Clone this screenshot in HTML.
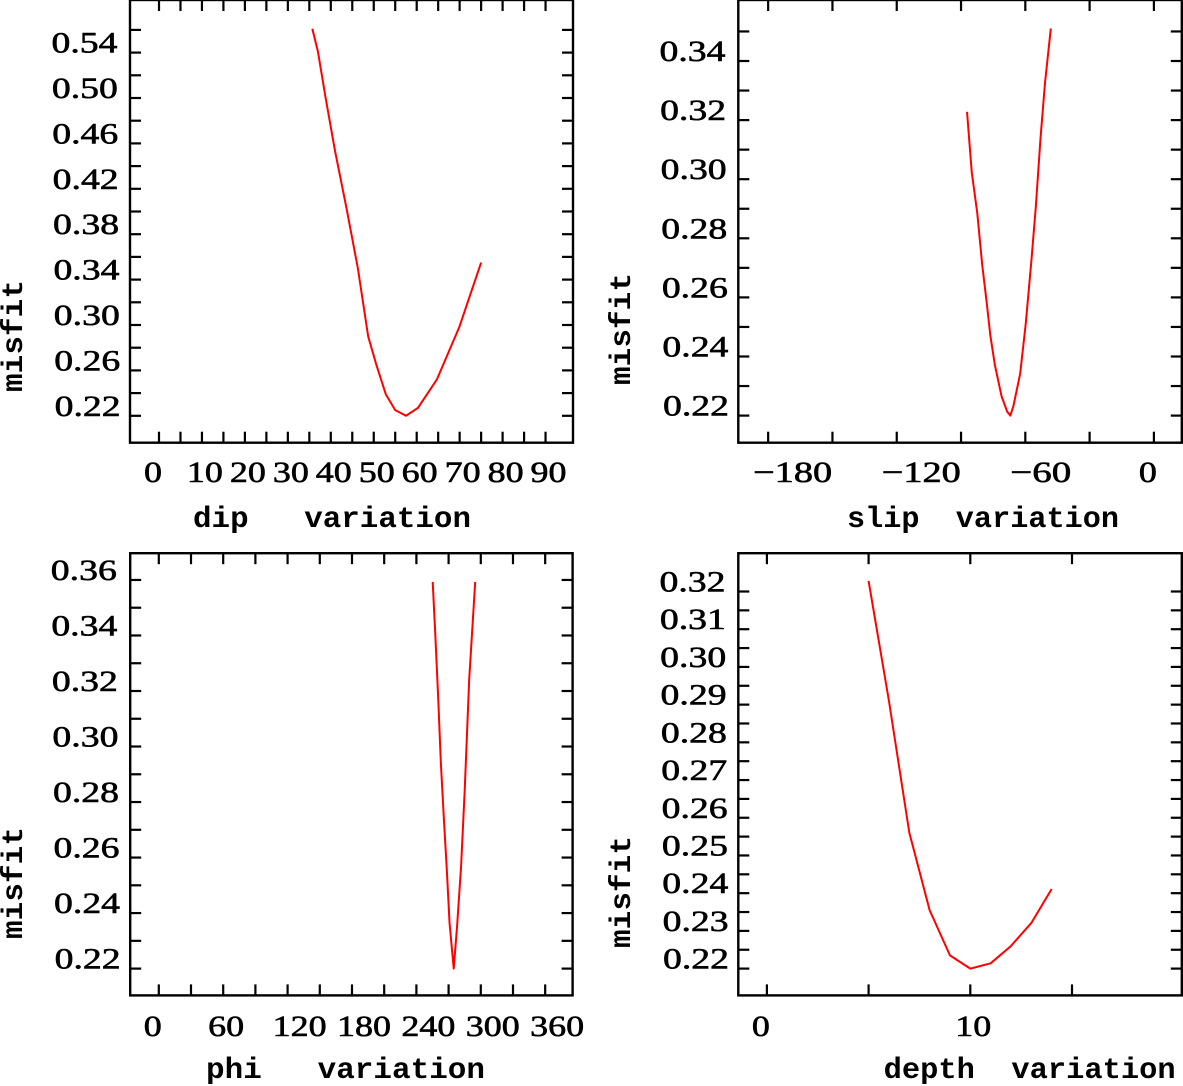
<!DOCTYPE html>
<html><head><meta charset="utf-8"><style>
html,body{margin:0;padding:0;background:#fff;}
svg{display:block;}
.tl{font-family:"Liberation Serif",serif;font-size:30px;fill:#000;stroke:#000;stroke-width:0.6px;}
.tt{font-family:"Liberation Mono",monospace;font-weight:bold;font-size:30px;fill:#000;white-space:pre;}
</style></head><body>
<svg id="chart" width="1183" height="1086" viewBox="0 0 1183 1086" xmlns="http://www.w3.org/2000/svg"></svg>
<script>
// ---- data ----
const dipX = [35.7, 37.0, 38.8, 41.0, 43.6, 46.3, 48.7, 50.6, 52.8, 55.0, 57.5, 60.3, 64.7, 69.9, 75.0];
const dipY = [0.561, 0.541, 0.500, 0.453, 0.404, 0.350, 0.290, 0.265, 0.239, 0.225, 0.220, 0.227, 0.252, 0.298, 0.355];
const slipX = [-87.2, -85.0, -82.4, -80.1, -78.0, -76.3, -74.2, -71.1, -68.5, -67.0, -65.6, -62.4, -59.8, -57.2, -55.1, -52.9, -50.8, -48.1];
const slipY = [0.3228, 0.3024, 0.2884, 0.2709, 0.2581, 0.2470, 0.2371, 0.2266, 0.2214, 0.2200, 0.2231, 0.2342, 0.2511, 0.2721, 0.2907, 0.3140, 0.3327, 0.3510];
const phiX = [255.2, 257.6, 260.4, 262.8, 265.6, 268.4, 270.9, 274.8, 277.9, 281.6, 285.0, 289.2, 294.8];
const phiY = [0.3593, 0.3405, 0.3167, 0.2941, 0.2740, 0.2552, 0.2364, 0.2200, 0.2352, 0.2565, 0.2841, 0.3242, 0.3593];
const depthX = [5, 6, 7, 8, 9, 10, 11, 12, 13, 14];
const depthY = [0.3228, 0.2910, 0.2561, 0.2355, 0.2235, 0.2200, 0.2214, 0.2260, 0.2321, 0.2411];

const dipXTicks = [0,5,10,15,20,25,30,35,40,45,50,55,60,65,70,75,80,85,90];
const dipXLabels = ["0","10","20","30","40","50","60","70","80","90"];
const dipYTicks = [0.22,0.24,0.26,0.28,0.30,0.32,0.34,0.36,0.38,0.40,0.42,0.44,0.46,0.48,0.50,0.52,0.54,0.56];
const dipYLabels = ["0.22","0.26","0.30","0.34","0.38","0.42","0.46","0.50","0.54"];
const slipXTicks = [-180,-150,-120,-90,-60,-30,0];
const slipXLabels = ["\u2212180","\u2212120","\u221260","0"];
const slipYTicks = [0.22,0.23,0.24,0.25,0.26,0.27,0.28,0.29,0.30,0.31,0.32,0.33,0.34,0.35];
const slipYLabels = ["0.22","0.24","0.26","0.28","0.30","0.32","0.34"];
const phiXTicks = [0,30,60,90,120,150,180,210,240,270,300,330,360];
const phiXLabels = ["0","60","120","180","240","300","360"];
const phiYTicks = [0.22,0.23,0.24,0.25,0.26,0.27,0.28,0.29,0.30,0.31,0.32,0.33,0.34,0.35,0.36];
const phiYLabels = ["0.22","0.24","0.26","0.28","0.30","0.32","0.34","0.36"];
const depthXTicks = [0,5,10,15];
const depthXLabels = ["0","10"];
const depthYTicks = [0.22,0.225,0.23,0.235,0.24,0.245,0.25,0.255,0.26,0.265,0.27,0.275,0.28,0.285,0.29,0.295,0.30,0.305,0.31,0.315,0.32];
const depthYLabels = ["0.22","0.23","0.24","0.25","0.26","0.27","0.28","0.29","0.30","0.31","0.32"];

const NS = "http://www.w3.org/2000/svg";
const svg = document.getElementById('chart');
function mk(tag, attrs, parent){ const e=document.createElementNS(NS,tag); for(const k in attrs) e.setAttribute(k,attrs[k]); (parent||svg).appendChild(e); return e; }
function lblLen(s){ let w=0; for(const c of s){ w += c==='.'?12:(c==='\u2212'?25:18); } return w; }

const panels = [
 {key:'dip', box:[130,573,0,442.7], x0:159, xs:4.295, y0:415.8, ys:1135, lx:[51.5,54.6], ml:[22,336],
  title:"dip   variation", tx:193, ty:527, tlen:278, xl:482, X:dipX, Y:dipY, xt:dipXTicks, xlab:dipXLabels, yt:dipYTicks, ylab:dipYLabels},
 {key:'slip', box:[738.3,1181.8,0,442.7], x0:1153.9, xs:2.143, y0:415.6, ys:2955, lx:[659.5,663], ml:[630,329],
  title:"slip  variation", tx:847, ty:527, tlen:272, xl:482, X:slipX, Y:slipY, xt:slipXTicks, xlab:slipXLabels, yt:slipYTicks, ylab:slipYLabels},
 {key:'phi', box:[130.2,572.6,553.2,995.4], x0:158.8, xs:1.0733, y0:968.6, ys:2776, lx:[50.8,54.6], ml:[22,883],
  title:"phi   variation", tx:206, ty:1078, tlen:279, xl:1036, X:phiX, Y:phiY, xt:phiXTicks, xlab:phiXLabels, yt:phiYTicks, ylab:phiYLabels},
 {key:'depth', box:[738.3,1181.8,553.2,995.4], x0:766.9, xs:20.34, y0:968.6, ys:3771, lx:[659.5,663], ml:[630,892],
  title:"depth  variation", tx:883.6, ty:1078, tlen:292, xl:1036, X:depthX, Y:depthY, xt:depthXTicks, xlab:depthXLabels, yt:depthYTicks, ylab:depthYLabels}
];

panels.forEach(p=>{
  const g = mk('g',{});
  
  
  const sx = v => p.x0 + p.xs*v;
  const sy = v => p.y0 - p.ys*(v-0.22);
  const [L,R,T,B] = p.box;
  const frame = mk('rect',{x:L,y:T,width:R-L,height:B-T,fill:'none',stroke:'#000','stroke-width':2.4},g);
  
  
  const TL = 11;
  p.xt.forEach(v=>{
    const x = sx(v);
    const t1 = mk('line',{x1:x,x2:x,y1:B,y2:B-TL,stroke:'#000','stroke-width':2.2},g);
    
    
    const t2 = mk('line',{x1:x,x2:x,y1:T,y2:T+TL,stroke:'#000','stroke-width':2.2},g);
    
    
  });
  p.yt.forEach(v=>{
    const y = sy(v);
    const t1 = mk('line',{x1:L,x2:L+TL,y1:y,y2:y,stroke:'#000','stroke-width':2.2},g);
    
    
    const t2 = mk('line',{x1:R,x2:R-TL,y1:y,y2:y,stroke:'#000','stroke-width':2.2},g);
    
    
  });
  p.xlab.forEach(s=>{
    const v = parseFloat(s.replace('\u2212','-'));
    const t = mk('text',{x:sx(v)-15,y:p.xl,'class':'tl',textLength:lblLen(s),lengthAdjust:'spacingAndGlyphs'},g);
    t.textContent = s;
    
    
  });
  const n = p.ylab.length;
  p.ylab.forEach((s,i)=>{
    const v = parseFloat(s);
    const x = p.lx[1] + (p.lx[0]-p.lx[1])*(i/(n-1));
    const t = mk('text',{x:x,y:sy(v),'class':'tl',textLength:66,lengthAdjust:'spacingAndGlyphs'},g);
    t.textContent = s;
    
    
  });
  const tt = mk('text',{x:p.tx,y:p.ty,'class':'tt',textLength:p.tlen,lengthAdjust:'spacingAndGlyphs'},g);
  tt.textContent = p.title;
  
  
  const ml = mk('text',{x:0,y:0,'class':'tt','text-anchor':'middle',textLength:112,lengthAdjust:'spacingAndGlyphs',transform:`translate(${p.ml[0]},${p.ml[1]}) rotate(-90)`},g);
  ml.textContent = 'misfit';
  
  
  const pts = p.X.map((v,i)=>sx(v).toFixed(2)+','+sy(p.Y[i]).toFixed(2)).join(' ');
  const line = mk('polyline',{points:pts,fill:'none',stroke:'#ff0000','stroke-width':2,'stroke-linejoin':'round'},g);
  
  
});
</script>
</body></html>
